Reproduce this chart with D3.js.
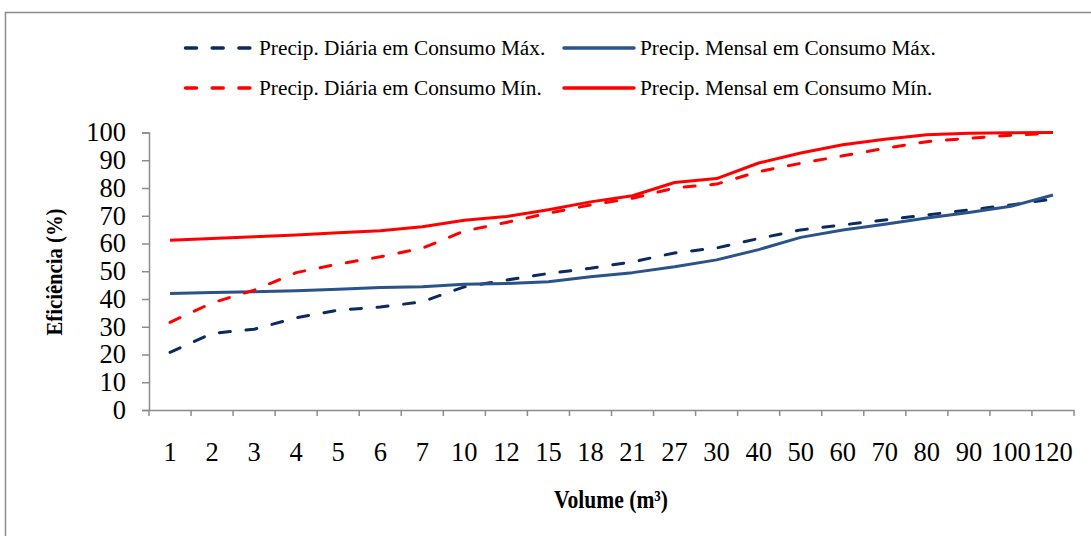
<!DOCTYPE html>
<html>
<head>
<meta charset="utf-8">
<script src="https://cdn.jsdelivr.net/npm/d3@7"></script>
<style>
  body { margin: 0; background: #fff; }
  svg { display: block; font-family: "Liberation Serif", "Times New Roman", serif; }
</style>
</head>
<body>
<svg id="chart" width="1091" height="536"></svg>
<script>
// categories (volume, m3)
var volumes = ["1","2","3","4","5","6","7","10","12","15","18","21","27","30","40","50","60","70","80","90","100","120"];
var yTicks = [0,10,20,30,40,50,60,70,80,90,100];

// efficiency (%) for each series
var diariaMax = [20.8,27.6,29.1,33.2,36.0,37.1,39.0,44.4,46.8,49.2,51.1,53.4,56.6,58.4,61.8,64.9,66.7,68.5,70.3,72.1,73.9,76.0];
var mensalMax = [42.0,42.3,42.6,43.0,43.5,44.1,44.4,45.3,45.6,46.2,48.0,49.5,51.6,54.1,57.8,62.2,64.9,66.9,69.2,71.2,73.4,77.5];
var diariaMin = [31.6,38.6,43.2,49.5,52.6,55.2,58.3,64.5,67.6,70.9,73.9,76.3,80.0,81.4,85.9,88.9,91.6,94.3,96.7,97.9,99.0,99.7];
var mensalMin = [61.2,61.8,62.4,63.1,63.9,64.6,66.0,68.4,69.7,72.2,75.0,77.2,82.0,83.4,89.0,92.6,95.6,97.6,99.2,99.7,99.9,100.0];

var series = [
  { name: "Precip. Diária em Consumo Máx.", values: diariaMax, color: "#0b2a5f", dash: "11,15.7" },
  { name: "Precip. Mensal em Consumo Máx.", values: mensalMax, color: "#2a5389", dash: null },
  { name: "Precip. Diária em Consumo Mín.", values: diariaMin, color: "#ff0000", dash: "11,15.7" },
  { name: "Precip. Mensal em Consumo Mín.", values: mensalMin, color: "#ff0000", dash: null }
];

var svg = d3.select("#chart");

// outer frame
svg.append("rect")
  .attr("x", 5.5).attr("y", 12.5)
  .attr("width", 1100).attr("height", 600)
  .attr("fill", "none").attr("stroke", "#8c8c8c").attr("stroke-width", 1.5);

var x = d3.scaleBand().domain(volumes).range([149, 1074]);
var y = d3.scaleLinear().domain([0, 100]).range([410, 132.5]);

// y axis
var yAxis = svg.append("g")
  .attr("transform", "translate(149,0)")
  .call(d3.axisLeft(y).tickValues(yTicks).tickSize(7).tickPadding(16));
yAxis.select(".domain").attr("stroke", "#8c8c8c").attr("stroke-width", 1.5);
yAxis.selectAll(".tick line").attr("stroke", "#8c8c8c").attr("stroke-width", 1.5);
yAxis.selectAll(".tick text")
  .attr("font-family", "Liberation Serif").attr("font-size", 26.5).attr("fill", "#000");

// x axis: labels centred in bands, ticks on band edges
var xAxis = svg.append("g")
  .attr("transform", "translate(0,410)")
  .call(d3.axisBottom(x).tickSize(0).tickPadding(32));
xAxis.select(".domain").attr("stroke", "#8c8c8c").attr("stroke-width", 1.5);
xAxis.selectAll(".tick text")
  .attr("font-family", "Liberation Serif").attr("font-size", 26.5).attr("fill", "#000");

var edges = volumes.map(function (v) { return x(v); }).concat([x.range()[1]]);
svg.append("g").selectAll("line")
  .data(edges)
  .enter().append("line")
    .attr("x1", function (d) { return d; })
    .attr("x2", function (d) { return d; })
    .attr("y1", 410).attr("y2", 416)
    .attr("stroke", "#8c8c8c").attr("stroke-width", 1.5);

// lines
var line = d3.line()
  .x(function (d, i) { return x(volumes[i]) + x.bandwidth() / 2; })
  .y(function (d) { return y(d); });

svg.append("g").selectAll("path")
  .data(series)
  .enter().append("path")
    .attr("d", function (s) { return line(s.values); })
    .attr("fill", "none")
    .attr("stroke", function (s) { return s.color; })
    .attr("stroke-width", 3)
    .attr("stroke-linecap", function (s) { return s.dash ? "round" : "butt"; })
    .attr("stroke-linejoin", "round")
    .attr("stroke-dasharray", function (s) { return s.dash; });

// axis titles (the original type is a bit condensed)
svg.append("text")
  .attr("transform", "translate(62,272) rotate(-90) scale(0.88,1)")
  .attr("text-anchor", "middle")
  .attr("font-size", 23.5).attr("font-weight", "bold")
  .text("Eficiência (%)");

svg.append("text")
  .attr("transform", "translate(611,508) scale(0.88,1)")
  .attr("text-anchor", "middle")
  .attr("font-size", 24.5).attr("font-weight", "bold")
  .text("Volume (m³)");

// legend, two rows of two
var legendPos = [[184, 48], [564, 48], [184, 88], [564, 88]];
var legend = svg.append("g").selectAll("g")
  .data(series)
  .enter().append("g")
    .attr("transform", function (s, i) { return "translate(" + legendPos[i][0] + "," + legendPos[i][1] + ")"; });

legend.append("line")
  .attr("x1", function (s) { return s.dash ? 1.5 : 0; })
  .attr("x2", function (s) { return s.dash ? 68 : 70; })
  .attr("y1", 0).attr("y2", 0)
  .attr("stroke", function (s) { return s.color; })
  .attr("stroke-width", 3.5)
  .attr("stroke-linecap", "round")
  .attr("stroke-dasharray", function (s) { return s.dash; });

legend.append("text")
  .attr("x", function (s) { return s.dash ? 75 : 76; })
  .attr("y", 7)
  .attr("font-size", 21.3)
  .text(function (s) { return s.name; });
</script>
</body>
</html>
